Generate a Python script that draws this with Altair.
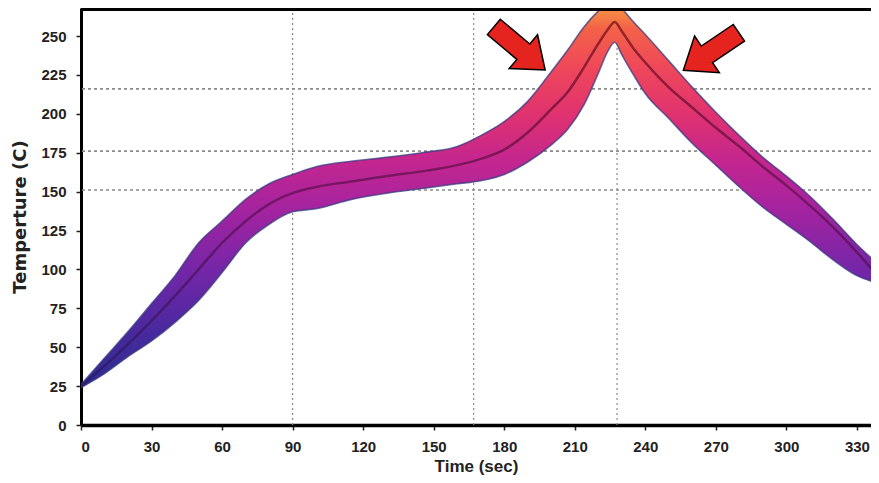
import altair as alt
import pandas as pd

# ---- data ----
time_s = [0, 10, 20, 30, 40, 50, 60, 70, 80, 90, 100, 115, 130, 145, 160, 170, 180, 190, 200,
          207, 214, 220, 224, 227, 230, 235, 240, 250, 260, 270, 280, 290, 300, 310, 320, 330, 337]
temp_upper = [26, 43, 60, 78, 96, 117, 131, 145, 155, 161, 166, 169.5, 172, 175, 179, 186, 195, 208, 227,
              241, 256, 266, 271, 274, 268, 259, 251, 234, 217, 201, 186, 172, 160, 147, 132, 116, 106]
temp_center = [25, 38, 52, 67, 83, 100, 117, 131, 142, 149, 153, 156.5, 160, 163, 167, 171, 177, 188, 203,
               214, 230, 245, 254, 259, 253, 242, 233, 217, 204, 191, 179, 166, 154, 141, 127, 111, 99]
temp_lower = [24, 33, 44, 54, 66, 80, 98, 117, 129, 137, 139, 145, 149, 152, 155, 157, 161, 169, 180,
              190, 206, 226, 240, 246, 238, 225, 213, 197, 181, 167, 153, 140, 129, 118, 106, 96, 92]

vgrid_time = [90, 167, 228]
hgrid_temp = [151, 176, 216]

arrow_time = [186.5, 268]
arrow_temp = [242, 240]
arrow_angle = [40, 146]

x_ticks = [0, 30, 60, 90, 120, 150, 180, 210, 240, 270, 300, 330]
y_ticks = [0, 25, 50, 75, 100, 125, 150, 175, 200, 225, 250]

band = pd.DataFrame({"time": time_s, "upper": temp_upper, "center": temp_center, "lower": temp_lower})
vg = pd.DataFrame({"time": vgrid_time})
hg = pd.DataFrame({"temp": hgrid_temp})
arrows = pd.DataFrame({"time": arrow_time, "temp": arrow_temp, "angle": arrow_angle})

W, H = 790, 417
X_DOMAIN = [0, 336.0]
Y_DOMAIN = [0, 268.0]

lab_font = "Liberation Sans"

x_axis = alt.Axis(values=x_ticks, title="Time (sec)", grid=False,
                  domainColor="black", domainWidth=3.5,
                  tickColor="#222", tickWidth=1.5, tickSize=5,
                  labelFont=lab_font, labelFontSize=15, labelFontWeight="bold",
                  labelColor="#222", labelPadding=9,
                  titleFont=lab_font, titleFontSize=17, titleFontWeight="bold",
                  titleColor="#222", titlePadding=4)
y_axis = alt.Axis(values=y_ticks, title="Temperture (C)", grid=False,
                  domainColor="black", domainWidth=3,
                  tickColor="#222", tickWidth=1.5, tickSize=5,
                  labelFont=lab_font, labelFontSize=15, labelFontWeight="bold",
                  labelColor="#222", labelPadding=10,
                  titleFont="DejaVu Sans", titleFontSize=18, titleFontWeight="bold",
                  titleColor="#222", titlePadding=11)
x_scale = alt.Scale(domain=X_DOMAIN, nice=False, zero=False)
y_scale = alt.Scale(domain=Y_DOMAIN, nice=False, zero=False)

band_grad = alt.Gradient(
    gradient="linear", x1=0, x2=0, y1=1, y2=0,
    stops=[
        alt.GradientStop(offset=0.0, color="#2a2e8e"),
        alt.GradientStop(offset=0.144, color="#48299e"),
        alt.GradientStop(offset=0.304, color="#7526a8"),
        alt.GradientStop(offset=0.464, color="#a6239f"),
        alt.GradientStop(offset=0.584, color="#c4268f"),
        alt.GradientStop(offset=0.704, color="#e0326f"),
        alt.GradientStop(offset=0.824, color="#ef485a"),
        alt.GradientStop(offset=0.924, color="#f36248"),
        alt.GradientStop(offset=0.96, color="#f48444"),
        alt.GradientStop(offset=1.0, color="#f6a040"),
    ],
)
line_grad = alt.Gradient(
    gradient="linear", x1=0, x2=0, y1=1, y2=0,
    stops=[
        alt.GradientStop(offset=0.0, color="#2a1a6a"),
        alt.GradientStop(offset=0.5, color="#6a1260"),
        alt.GradientStop(offset=0.8, color="#7a1238"),
        alt.GradientStop(offset=1.0, color="#8a1a20"),
    ],
)

vgrid = alt.Chart(vg).mark_rule(color="#8a8a8a", strokeWidth=1.2, strokeDash=[2, 3]).encode(
    x=alt.X("time:Q", scale=x_scale, axis=x_axis))
hgrid = alt.Chart(hg).mark_rule(color="#8a8a8a", strokeWidth=1.6, strokeDash=[3, 3]).encode(
    y=alt.Y("temp:Q", scale=y_scale, axis=y_axis))

area = alt.Chart(band).mark_area(
    interpolate="monotone", clip=True, fill=band_grad,
    stroke="#3a3a80", strokeWidth=1.6, strokeOpacity=0.75,
).encode(
    x=alt.X("time:Q", scale=x_scale, axis=x_axis),
    y=alt.Y("lower:Q", scale=y_scale, axis=y_axis),
    y2="upper:Q")

line = alt.Chart(band).mark_line(
    interpolate="monotone", clip=True, stroke=line_grad, strokeWidth=2.5, opacity=0.85,
).encode(x=alt.X("time:Q"), y=alt.Y("center:Q"))

top_frame = alt.Chart(band).mark_rule(color="black", strokeWidth=3).encode(
    x=alt.value(0), x2=alt.value(W), y=alt.value(1))

arrow_path = "M -1 -0.3 L 0.15 -0.3 L 0.15 -0.66 L 1 0 L 0.15 0.66 L 0.15 0.3 L -1 0.3 Z"
arrow = alt.Chart(arrows).mark_point(
    shape=arrow_path, filled=True, fill="#e52420", stroke="black", strokeWidth=1.5, opacity=1,
).encode(
    x=alt.X("time:Q"), y=alt.Y("temp:Q"),
    angle=alt.Angle("angle:Q", scale=None), size=alt.value(4489))

chart = alt.layer(vgrid, hgrid, area, line, top_frame, arrow).properties(
    width=W, height=H,
    autosize=alt.AutoSizeParams(type="none"),
    padding={"left": 73, "top": 0, "right": 0, "bottom": 50},
    background="white",
).configure_view(stroke=None)

chart.save("out.html", embed_options={"renderer": "svg", "actions": False})
